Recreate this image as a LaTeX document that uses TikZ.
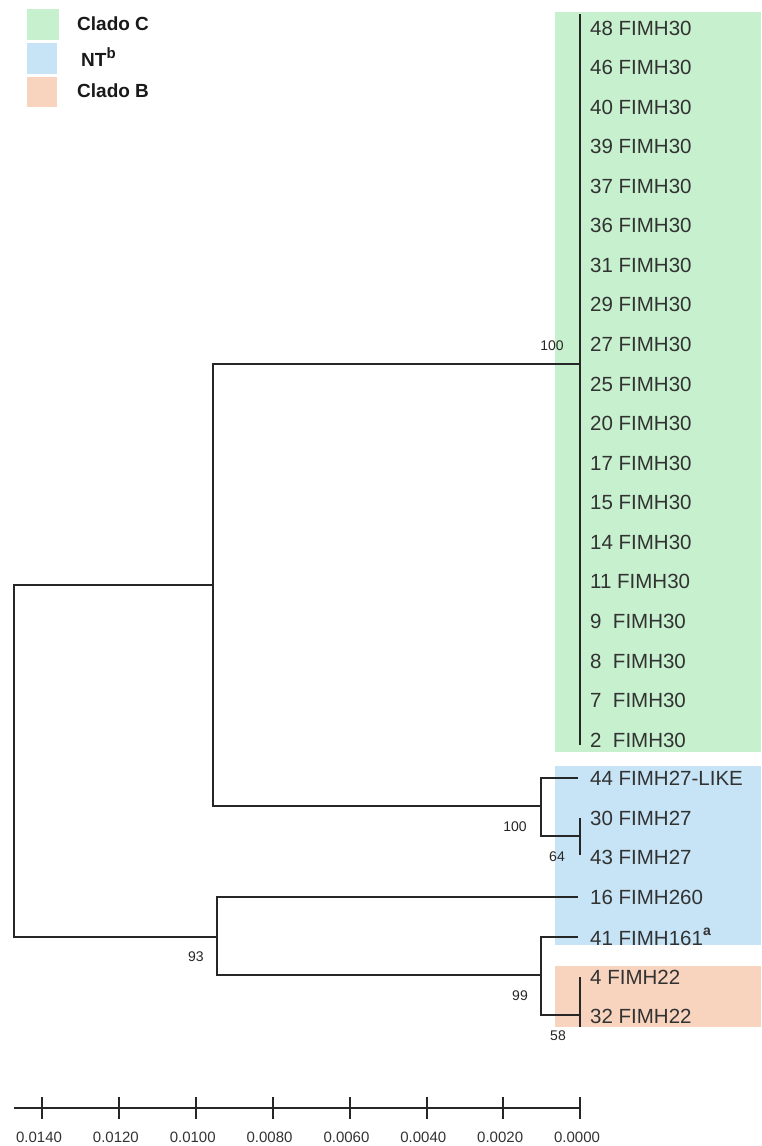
\documentclass[tikz,border=0pt]{standalone}
\usepackage{fontspec}
\setmainfont{Liberation Sans}
\definecolor{cgreen}{RGB}{198,240,206}
\definecolor{cblue}{RGB}{198,228,245}
\definecolor{corange}{RGB}{248,212,191}
\definecolor{txt}{RGB}{50,50,50}
\begin{document}
\begin{tikzpicture}[x=1pt,y=-1pt,
  branch/.style={line width=1.5pt,draw=black!85},
  leaf/.style={anchor=west,inner sep=0pt,text=txt,font=\fontsize{20.5}{22}\selectfont},
  boot/.style={inner sep=0pt,text=black!85,font=\fontsize{14}{15}\selectfont},
  legtxt/.style={anchor=west,inner sep=0pt,text=black!90,font=\bfseries\fontsize{19}{20}\selectfont},
  ticklab/.style={inner sep=0pt,text=txt,font=\fontsize{15}{16}\selectfont}]
\useasboundingbox (0,0) rectangle (761,1146);
% clade backgrounds
\fill[cgreen] (555,12) rectangle (761,752);
\fill[cblue] (555,766) rectangle (761,945);
\fill[corange] (555,966) rectangle (761,1027);
% legend
\fill[cgreen] (27,9) rectangle (59,40);
\fill[cblue] (27,43) rectangle (57,74);
\fill[corange] (27,77) rectangle (57,107);
\node[legtxt] (lgC) at (77,24) {Clado C};
\node[legtxt] (lgNT) at (81,57) {NT\raisebox{0.45em}{\fontsize{15}{15}\selectfont b}};
\node[legtxt] (lgB) at (77,91) {Clado B};
% leaves of clade C
\foreach \lab [count=\i from 0] in {48,46,40,39,37,36,31,29,27,25,20,17,15,14,11}{
  \node[leaf] (c\i) at (590,{28+\i*39.56}) {\lab\ FIMH30};
}
\foreach \lab [count=\i from 15] in {9,8,7,2}{
  \node[leaf] (c\i) at (590,{28+\i*39.56}) {\lab\ \ FIMH30};
}
% other leaves
\node[leaf] (l44) at (590,778) {44 FIMH27-LIKE};
\node[leaf] (l30) at (590,818) {30 FIMH27};
\node[leaf] (l43) at (590,857) {43 FIMH27};
\node[leaf] (l16) at (590,897) {16 FIMH260};
\node[leaf] (l41) at (590,937) {41 FIMH161\raisebox{0.5em}{\bfseries\fontsize{14}{14}\selectfont a}};
\node[leaf] (l4) at (590,977) {4 FIMH22};
\node[leaf] (l32) at (590,1016) {32 FIMH22};
% internal nodes
\coordinate (root) at (14,761);
\coordinate (n1) at (213,585);
\coordinate (n2) at (217,937);
\coordinate (nC) at (580,364);
\coordinate (nB) at (541,806);
\coordinate (nB2) at (580,836);
\coordinate (nD) at (541,975);
\coordinate (nD2) at (580,1015);
\coordinate (e44) at (578,778);
\coordinate (e16) at (578,897);
\coordinate (e41) at (578,937);
% branches
\draw[branch] (root) |- (n1);
\draw[branch] (root) |- (n2);
\draw[branch] (n1) |- (nC);
\draw[branch] (n1) |- (nB);
\draw[branch] (580,14) -- (580,745);
\draw[branch] (nB) |- (e44);
\draw[branch] (nB) |- (nB2);
\draw[branch] (580,818) -- (580,855);
\draw[branch] (n2) |- (e16);
\draw[branch] (n2) |- (nD);
\draw[branch] (nD) |- (e41);
\draw[branch] (nD) |- (nD2);
\draw[branch] (580,977) -- (580,1027);
% bootstrap values
\node[boot] (b1) at (552,346) {100};
\node[boot] (b2) at (515,827) {100};
\node[boot] (b3) at (557,857) {64};
\node[boot] (b4) at (196,957) {93};
\node[boot] (b5) at (520,996) {99};
\node[boot] (b6) at (558,1036) {58};
% scale axis
\coordinate (ax0) at (14,1108);
\coordinate (ax1) at (580,1108);
\draw[branch] (ax0) -- (ax1);
\foreach \x [count=\k from 0] in {42,119,196,273,350,427,503,580}{
  \draw[branch] (\x,1097) -- (\x,1119);
}
\foreach \v [count=\k from 0] in {0.0140,0.0120,0.0100,0.0080,0.0060,0.0040,0.0020,0.0000}{
  \node[ticklab] (t\k) at ({39+\k*76.86},1137) {\v};
}
\end{tikzpicture}
\end{document}
